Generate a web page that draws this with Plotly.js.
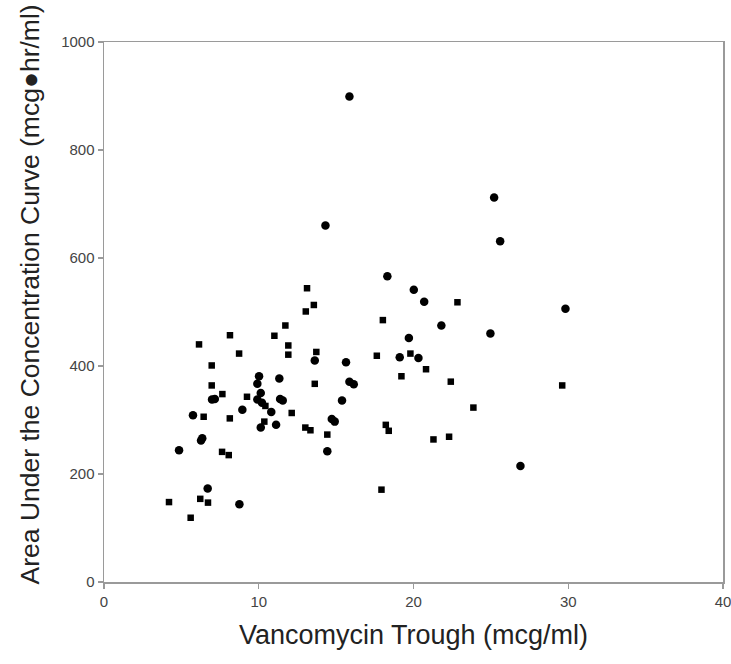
<!DOCTYPE html>
<html>
<head>
<meta charset="utf-8">
<script src="https://cdn.plot.ly/plotly-3.0.1.min.js"></script>
<style>html,body{margin:0;padding:0;background:#fff;}#chart{width:731px;height:664px;}</style>
</head>
<body>
<div id="chart"></div>
<script>
// Group drawn with circles
const circleTrough = [15.86,14.31,25.21,25.60,18.31,20.02,20.69,21.80,24.97,29.82,19.70,15.64,19.11,20.32,13.62,15.86,16.14,15.38,14.72,14.91,14.43,26.91,10.02,9.91,11.33,10.13,9.91,10.21,11.38,11.55,10.81,8.94,6.98,7.16,5.75,10.13,11.12,6.27,6.35,4.85,6.70,8.75];
const circleAUC    = [899,660,712,631,566,541,519,475,460,506,452,407,416,415,410,371,366,336,302,297,242,215,381,367,377,350,338,332,339,336,315,319,338,339,309,286,291,262,266,244,173,144];

// Group drawn with squares
const squareTrough = [6.14,6.96,6.96,8.14,8.73,11.01,11.72,11.91,11.91,13.04,13.12,13.56,13.72,13.62,7.65,9.24,10.43,12.13,6.44,8.13,10.36,13.01,13.34,7.63,8.06,6.22,6.72,4.20,5.60,22.84,18.02,17.63,19.80,20.81,19.22,22.41,23.87,18.21,18.40,21.29,22.30,17.93,29.61,14.43];
const squareAUC    = [440,401,364,457,423,456,475,438,421,501,544,513,426,367,348,343,326,313,306,303,297,286,281,241,235,154,147,148,119,518,485,419,423,394,381,371,323,291,280,264,269,171,364,273];

const xTicks = [0,10,20,30,40];
const yTicks = [0,200,400,600,800,1000];
const xTitle = 'Vancomycin Trough (mcg/ml)';
const yTitle = 'Area Under the Concentration Curve (mcg\u25CFhr/ml)';

const traces = [
  {x: circleTrough, y: circleAUC, type: 'scatter', mode: 'markers',
   marker: {symbol: 'circle', size: 8.5, color: '#000'}, showlegend: false, cliponaxis: false},
  {x: squareTrough, y: squareAUC, type: 'scatter', mode: 'markers',
   marker: {symbol: 'square', size: 6.5, color: '#000'}, showlegend: false, cliponaxis: false}
];

const axisCommon = {
  showgrid: false, zeroline: false, showline: true, linecolor: '#9a9a9a', linewidth: 1.5,
  mirror: true, ticks: 'outside', ticklen: 5, tickwidth: 1.2, tickcolor: '#9a9a9a',
  ticklabeloverflow: 'allow',
  tickfont: {family: 'Liberation Sans Narrow, Arial, Liberation Sans, sans-serif', size: 15, color: '#444'}
};

const layout = {
  width: 731, height: 664,
  margin: {l: 104, r: 8, t: 42, b: 82, pad: 0},
  paper_bgcolor: '#fff', plot_bgcolor: '#fff',
  xaxis: Object.assign({}, axisCommon, {range: [0, 40], tickvals: xTicks, ticktext: xTicks.map(String)}),
  yaxis: Object.assign({}, axisCommon, {range: [0, 1000], tickvals: yTicks, ticktext: yTicks.map(String)}),
  annotations: [
    {text: xTitle, xref: 'paper', yref: 'paper', x: 0.5, y: -0.098, xanchor: 'center', yanchor: 'middle',
     showarrow: false, font: {family: 'Arial, Liberation Sans, sans-serif', size: 27, color: '#222'}},
    {text: yTitle, xref: 'paper', yref: 'paper', x: -0.12, y: 0.532, xanchor: 'center', yanchor: 'middle',
     textangle: -90, showarrow: false, font: {family: 'Arial, Liberation Sans, sans-serif', size: 26.5, color: '#222'}}
  ]
};

Plotly.newPlot('chart', traces, layout, {displayModeBar: false, staticPlot: true});
</script>
</body>
</html>
